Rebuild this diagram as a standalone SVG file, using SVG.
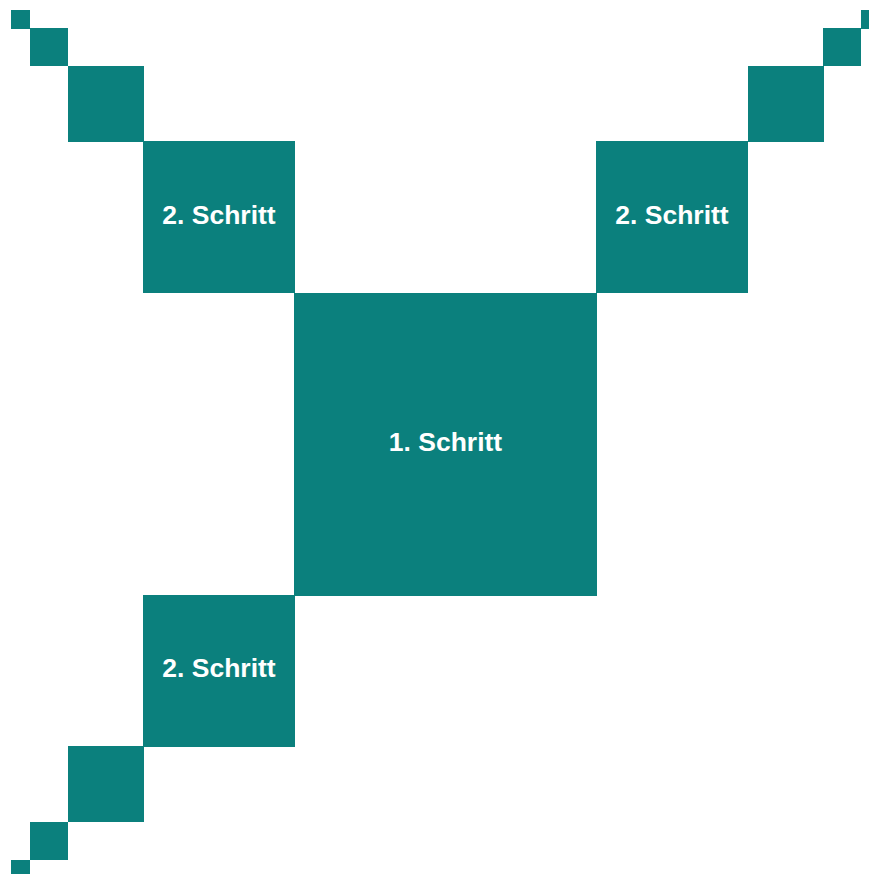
<svg xmlns="http://www.w3.org/2000/svg" width="869" height="874" viewBox="0 0 869 874">
<style>
rect{fill:#0B807D}
text{fill:#ffffff;font-family:"Liberation Sans",Arial,sans-serif;font-weight:bold;font-size:26.5px;text-anchor:middle}
</style>
<rect x="0" y="0" width="869" height="874" style="fill:#ffffff"/>
<g id="step1"><rect x="294" y="293" width="303" height="303"/><text x="445.5" y="451">1. Schritt</text></g>
<g id="step2-tl"><rect x="143" y="141" width="152" height="152"/><text x="219" y="224">2. Schritt</text></g>
<g id="step2-tr"><rect x="596" y="141" width="152" height="152"/><text x="672" y="224">2. Schritt</text></g>
<g id="step2-bl"><rect x="143" y="595" width="152" height="152"/><text x="219" y="677">2. Schritt</text></g>
<g id="step3-tl"><rect x="68" y="66" width="76" height="76"/></g>
<g id="step3-tr"><rect x="748" y="66" width="76" height="76"/></g>
<g id="step3-bl"><rect x="68" y="746" width="76" height="76"/></g>
<g id="step4-tl"><rect x="30" y="28" width="38" height="38"/></g>
<g id="step4-tr"><rect x="823" y="28" width="38" height="38"/></g>
<g id="step4-bl"><rect x="30" y="822" width="38" height="38"/></g>
<g id="step5-tl"><rect x="11" y="10" width="19" height="19"/></g>
<g id="step5-tr"><rect x="861" y="10" width="19" height="19"/></g>
<g id="step5-bl"><rect x="11" y="860" width="19" height="19"/></g>
<g id="connectors"></g>
</svg>
